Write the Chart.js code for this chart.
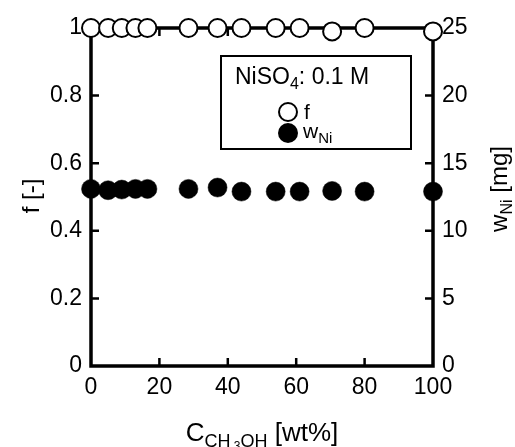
<!DOCTYPE html>
<html>
<head>
<meta charset="utf-8">
<script src="https://cdn.jsdelivr.net/npm/chart.js@4/dist/chart.umd.min.js"></script>
<style>
  html, body { margin: 0; padding: 0; background: #fff; }
  #wrap { width: 515px; height: 447px; position: relative; }
</style>
</head>
<body>
<div id="wrap"><canvas id="chart"></canvas></div>
<script>
// methanol concentration [wt%]
const conc   = [0, 5, 9, 13, 16.5, 28.5, 37, 44, 54, 61, 70.5, 80, 100];
// f [-] (left axis)
const fVals  = [1, 1, 1, 1, 1, 1, 1, 1, 1, 1, 0.99, 1, 0.99];
// w_Ni [mg] (right axis)
const wNi    = [13.1, 13.0, 13.05, 13.1, 13.1, 13.1, 13.2, 12.9, 12.9, 12.9, 12.95, 12.9, 12.9];

const xTicks  = [0, 20, 40, 60, 80, 100];
const fTicks  = [0, 0.2, 0.4, 0.6, 0.8, 1];
const wTicks  = [0, 5, 10, 15, 20, 25];

const FONT = "'Liberation Sans', Arial, sans-serif";

// draws text pieces [text, size, dy] one after another
function drawRuns(ctx, runs, x, y) {
  let cx = x;
  runs.forEach(([t, size, dy]) => {
    ctx.font = `${size}px ${FONT}`;
    ctx.fillText(t, cx, y + dy);
    cx += ctx.measureText(t).width;
  });
  return cx - x;
}
function runsWidth(ctx, runs) {
  let w = 0;
  runs.forEach(([t, size]) => { ctx.font = `${size}px ${FONT}`; w += ctx.measureText(t).width; });
  return w;
}

const framePlugin = {
  id: 'frame',
  beforeDatasetsDraw(chart) {
    const { ctx, chartArea: a, scales } = chart;
    ctx.save();
    ctx.strokeStyle = '#000';
    ctx.lineWidth = 3.5;
    ctx.strokeRect(a.left, a.top, a.right - a.left, a.bottom - a.top);
    ctx.lineWidth = 2.5;
    const len = 8;
    ctx.beginPath();
    xTicks.slice(1, -1).forEach(v => {
      const px = scales.x.getPixelForValue(v);
      ctx.moveTo(px, a.bottom); ctx.lineTo(px, a.bottom - len);
      ctx.moveTo(px, a.top);    ctx.lineTo(px, a.top + len);
    });
    fTicks.slice(1, -1).forEach(v => {
      const py = scales.y.getPixelForValue(v);
      ctx.moveTo(a.left, py); ctx.lineTo(a.left + len, py);
    });
    wTicks.slice(1, -1).forEach(v => {
      const py = scales.y2.getPixelForValue(v);
      ctx.moveTo(a.right, py); ctx.lineTo(a.right - len, py);
    });
    ctx.stroke();
    ctx.restore();
  },
  afterDatasetsDraw(chart) {
    const { ctx } = chart;
    ctx.save();
    ctx.fillStyle = '#000';
    ctx.textBaseline = 'alphabetic';

    // legend box
    ctx.fillStyle = '#fff';
    ctx.fillRect(221, 56, 190, 93);
    ctx.strokeStyle = '#000';
    ctx.lineWidth = 2;
    ctx.strokeRect(221, 56, 190, 93);
    ctx.fillStyle = '#000';
    drawRuns(ctx, [['NiSO', 23, 0], ['4', 16, 5], [': 0.1 M', 23, 0]], 235, 84);

    ctx.lineWidth = 2;
    ctx.beginPath();
    ctx.arc(288, 112, 9, 0, Math.PI * 2);
    ctx.fillStyle = '#fff'; ctx.fill(); ctx.stroke();
    ctx.beginPath();
    ctx.arc(288, 133, 10, 0, Math.PI * 2);
    ctx.fillStyle = '#000'; ctx.fill();
    drawRuns(ctx, [['f', 21, 0]], 304, 119);
    drawRuns(ctx, [['w', 21, 0], ['Ni', 15, 5]], 303, 138);

    // x title
    const xt = [['C', 26, 0], ['CH', 18, 6], [' 3', 12, 9], ['OH', 18, 6], [' [wt%]', 26, 0]];
    drawRuns(ctx, xt, 262 - runsWidth(ctx, xt) / 2, 441);

    // left title
    ctx.save();
    ctx.translate(39, 196);
    ctx.rotate(-Math.PI / 2);
    const lt = [['f [-]', 24, 0]];
    drawRuns(ctx, lt, -runsWidth(ctx, lt) / 2, 0);
    ctx.restore();

    // right title
    ctx.save();
    ctx.translate(507, 189);
    ctx.rotate(-Math.PI / 2);
    const rt = [['w', 24, 0], ['Ni', 16, 5], [' [mg]', 24, 0]];
    drawRuns(ctx, rt, -runsWidth(ctx, rt) / 2, 0);
    ctx.restore();

    ctx.restore();
  }
};

const tickFont = { family: FONT, size: 23 };

new Chart(document.getElementById('chart'), {
  type: 'scatter',
  data: {
    datasets: [
      {
        label: 'wNi',
        data: conc.map((c, i) => ({ x: c, y: wNi[i] })),
        yAxisID: 'y2',
        pointRadius: 9.5,
        pointBackgroundColor: '#000',
        pointBorderColor: '#000',
        pointBorderWidth: 0.5,
        clip: false
      },
      {
        label: 'f',
        data: conc.map((c, i) => ({ x: c, y: fVals[i] })),
        yAxisID: 'y',
        pointRadius: 9,
        pointBackgroundColor: '#fff',
        pointBorderColor: '#000',
        pointBorderWidth: 2,
        clip: false
      }
    ]
  },
  options: {
    responsive: true,
    maintainAspectRatio: false,
    animation: false,
    layout: { padding: { top: 28, left: 0, right: 0, bottom: 0 } },
    plugins: { legend: { display: false }, tooltip: { enabled: false } },
    scales: {
      x: {
        type: 'linear', min: 0, max: 100,
        afterFit: s => { s.height = 81; },
        afterBuildTicks: s => { s.ticks = xTicks.map(v => ({ value: v })); },
        grid: { display: false, drawTicks: false },
        border: { display: false },
        ticks: { font: tickFont, color: '#000', padding: 8, maxRotation: 0 }
      },
      y: {
        type: 'linear', position: 'left', min: 0, max: 1,
        afterFit: s => { s.width = 91; },
        afterBuildTicks: s => { s.ticks = fTicks.map(v => ({ value: v })); },
        grid: { display: false, drawTicks: false },
        border: { display: false },
        ticks: { font: tickFont, color: '#000', padding: 9, callback: v => String(+v.toFixed(1)) }
      },
      y2: {
        type: 'linear', position: 'right', min: 0, max: 25,
        afterFit: s => { s.width = 82; },
        afterBuildTicks: s => { s.ticks = wTicks.map(v => ({ value: v })); },
        grid: { display: false, drawTicks: false },
        border: { display: false },
        ticks: { font: tickFont, color: '#000', padding: 9 }
      }
    }
  },
  plugins: [framePlugin]
});
</script>
</body>
</html>
